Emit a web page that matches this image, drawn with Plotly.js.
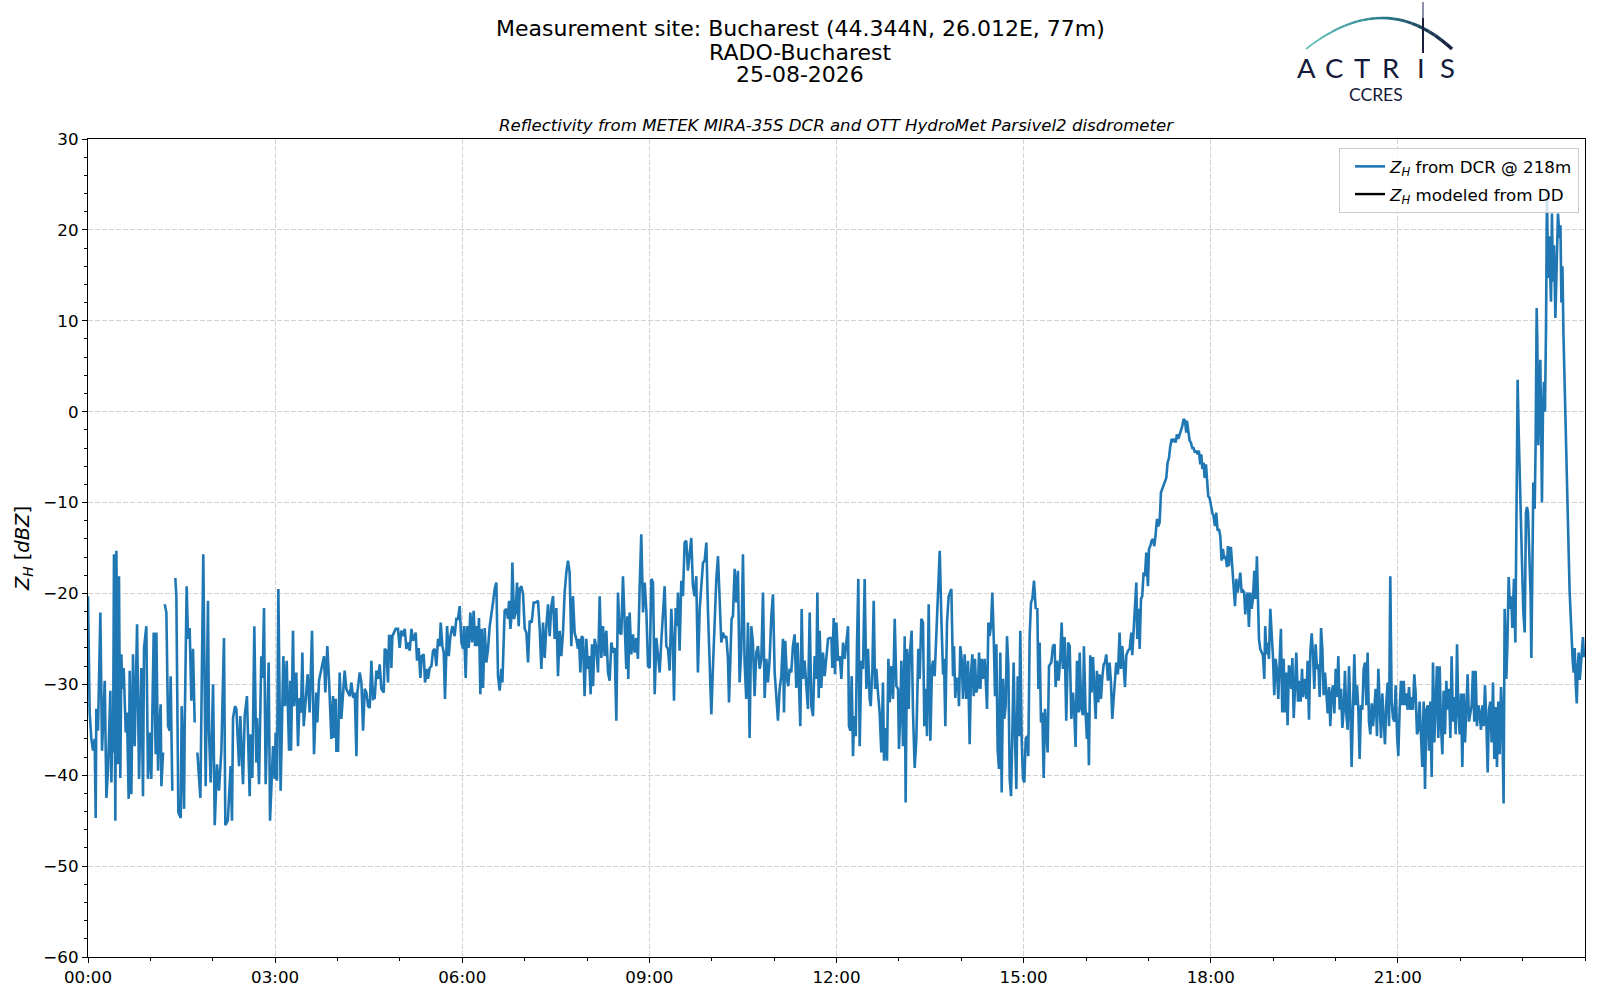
<!DOCTYPE html>
<html>
<head>
<meta charset="utf-8">
<script src="https://cdn.plot.ly/plotly-3.0.1.min.js"></script>
<style>html,body{margin:0;padding:0;background:#fff;}#chart{width:1600px;height:1000px;}</style>
</head>
<body>
<div id="chart"></div>
<script>
// ---- data: minutes since 00:00 UTC and reflectivity Z_H [dBZ] ----
const DAY = '2026-08-25';
const tA = [0,1.6,3.2,4.8,6.4,7.4,8.0,9.6,11.9,12.5,13.5,16.1,17.7,19.3,21.5,22.5,23.4,24.1,25.0,26.3,27.3,28.9,29.8,31.1,32.1,33.1,34.3,36.3,37.5,39.1,40.1,41.7,43.3,44.9,47.2,49.1,51.3,52.9,53.9,56.1,57.7,59.3,60.9,63.2,65.1,65.8,67.4,68.3,69.9,70.6,72.2,72.9,73.8,75.4,77.0,78.6,79.5,81.1,82.5,84.0,85.0,86.9,89.2,90.1,92.4,93.0,94.9,96.2,97.8,99.4,101.0,102.6,103.9,105.2,108.1,110.9,113.2,115.4,116.4,118.0,120.3,121.9,124.1,126.0,128.3,130.8,132.1,134.5,137.2,138.5,139.5,141.4,142.7,145.3,146.5,149.1,150.7,152.9,155.5,156.5,158.1,160.0,161.9,162.6,164.5,166.7,168.0,169.3,170.9,173.8,175.1,178.0,179.6,180.5,181.8,183.1,185.3,187.9,189.5,191.1,193.4,194.6,195.3,197.2,198.2,200.4,202.0,203.6,204.9,206.2,207.5,211.3,213.2,215.5,217.4,219.6,220.6,222.2,227.0,228.3,230.2,231.8];
const zA = [-20.3,-33.1,-36.0,-37.3,-36.0,-44.7,-32.7,-35.1,-22.1,-32.4,-37.3,-29.6,-42.5,-39.3,-30.7,-40.8,-34.2,-37.5,-15.7,-45.0,-15.3,-38.8,-18.1,-40.3,-26.7,-30.5,-28.2,-35.3,-33.1,-42.6,-28.5,-42.1,-26.7,-36.8,-23.4,-40.4,-28.2,-42.3,-26.0,-23.6,-40.4,-35.3,-40.4,-24.3,-37.7,-24.3,-39.5,-35.5,-32.2,-41.2,-37.5,null,-21.2,-22.1,-34.6,-35.1,-29.1,-41.7,null,-18.3,-20.3,-44.1,-44.7,-32.4,-43.7,-34.8,-19.2,-25.0,-23.8,-31.8,-26.1,-34.2,null,-37.5,-42.5,-15.7,-41.2,-20.8,-35.3,-40.8,-30.0,-45.5,-38.8,-41.7,-37.3,-24.9,-45.5,-45.0,-39.0,-45.0,-33.7,-32.4,-32.7,-39.0,-33.5,-41.0,-33.5,-31.3,-42.3,-35.5,-40.3,-23.6,-38.6,-33.7,-41.0,-26.9,-29.3,-21.6,-41.0,-27.6,-45.0,-36.8,-40.4,-35.3,-40.6,-19.5,-41.7,-26.9,-32.4,-27.4,-37.3,-29.6,-37.3,-24.1,-32.4,-28.7,-36.8,-31.5,-33.1,-26.5,-34.6,-28.9,-33.1,-24.1,-37.7,-30.9,-34.2,-29.6,-26.9,-30.9,-25.8,-29.4];

const tB = [234.1,235.7,236.7,238.3,238.9,240.5,242.1,243.7,245.3,246.9,248.5,250.2,251.8,253.4,255.0,256.6,258.2,259.1,261.4,263.0,264.6,266.2,267.8,269.4,271.0,272.6,274.2,275.8,277.4,279.0,280.6,282.2,284.5,285.4,287.0,288.6,289.6,291.2,291.8,292.8,294.1,296.0,298.2,299.8,301.4,303.0,304.7,306.3,307.9,309.5,311.1,312.7,314.3,315.2,316.5,318.1,319.7,321.0,322.9,324.2,326.1,327.1,328.7,330.3,331.9,333.5,335.1,336.7,338.3,339.3,340.9,342.2,343.4,345.4,347.0,348.6,350.5,352.7,354.3,355.9,357.5,359.2,360.8,361.7,363.3,364.6,366.2,367.8,369.4,371.0,372.3,373.6,374.9,376.1,377.4,378.7,380.0,381.6,383.2,384.8,386.4,388.0,389.6,391.2,392.8,394.4,396.0,397.6,398.6,400.8,402.4,404.0,405.0,406.3,407.2,408.2,409.8,411.4,412.7,414.3,415.3,416.9,418.5,420.1,421.7,423.3,424.9,426.8,428.7,430.7,432.9,434.5,436.1,437.7,439.3,440.9,442.5,444.1,445.7,447.3,448.9,450.5,452.1,453.7,455.3,456.9,458.5,460.1,461.7,463.3];
const zB = [-36.0,-31.3,-35.9,-31.6,-37.3,-37.3,-28.7,-33.8,-30.9,-28.5,-30.5,-30.9,-31.3,-29.8,-31.5,-30.9,-37.9,-30.9,-28.7,-29.8,-35.1,-30.5,-30.9,-32.4,-32.6,-27.4,-31.6,-31.5,-28.5,-29.4,-27.8,-30.5,-30.9,-26.1,-26.3,-29.8,-24.7,-24.7,-28.2,-24.7,-24.3,-23.9,-23.9,-26.0,-24.1,-24.7,-23.9,-26.1,-25.4,-26.3,-23.9,-25.2,-24.7,-24.3,-27.4,-26.0,-29.3,-26.9,-26.7,-29.8,-28.3,-29.4,-28.2,-28.0,-26.3,-26.1,-28.0,-25.0,-25.8,-23.2,-25.8,-26.5,-31.6,-23.6,-26.9,-24.7,-23.6,-24.7,-22.8,-22.8,-21.4,-25.4,-26.1,-23.6,-29.3,-23.6,-26.0,-22.1,-25.4,-21.9,-25.8,-23.6,-25.8,-22.7,-31.1,-23.9,-30.4,-23.8,-27.6,-26.1,-23.6,-22.5,-21.0,-19.5,-18.8,-29.1,-30.7,-28.3,-29.8,-21.9,-21.7,-22.8,-20.8,-23.9,-22.8,-16.6,-22.8,-22.1,-18.8,-23.6,-19.5,-19.2,-20.1,-23.9,-24.3,-27.6,-23.0,-23.2,-21.0,-21.0,-20.8,-23.9,-28.3,-23.2,-27.1,-23.6,-21.2,-24.7,-21.4,-20.3,-25.0,-21.6,-29.1,-24.1,-26.9,-24.3,-19.9,-17.7,-16.4,-17.7];

const tC = [464.9,466.5,468.1,469.7,471.3,472.3,473.6,474.9,476.1,477.7,479.3,481.0,481.9,483.5,484.8,485.8,487.4,489.0,490.6,492.2,493.8,495.4,497.0,498.6,500.2,501.8,503.4,505.0,506.6,508.2,509.8,511.4,513.0,514.6,516.2,517.8,518.8,519.7,521.0,522.6,524.2,525.8,527.4,529.0,530.6,532.2,533.9,535.5,537.1,538.7,540.3,541.9,543.5,545.1,546.7,548.3,549.9,551.5,553.1,554.7,556.3,557.9,559.5,561.1,562.7,563.7,565.3,566.6,567.5,569.1,570.7,572.3,573.9,575.5,577.1,578.7,580.3,581.9,583.5,585.1,586.7,588.4,590.0,591.6,593.2,594.8,596.4,598.0,599.6,601.2,602.8,604.4,606.0,607.6,609.2,610.8,612.4,614.0,615.6,616.6,617.9,619.1,620.4,622.0,623.6,625.2,626.8,628.4,630.0,631.6,633.2,634.8,636.4,638.0,639.6,641.2,642.9,644.5,646.1,647.7,649.3,650.9,652.5,654.1,655.7,657.3,658.9,660.5,662.1,663.7,665.3,666.9,668.5,669.5,670.7,672.3,673.6,674.9,676.5,678.1,679.7,681.3,682.6,683.9,685.2,686.5,687.7,689.3,690.9,692.5,694.2];
const zC = [-25.8,-20.3,-24.3,-25.0,-26.1,-25.0,-28.7,-24.7,-24.9,-31.3,-25.0,-28.3,-26.9,-31.1,-25.6,-30.2,-25.0,-26.0,-28.7,-20.3,-27.1,-23.6,-26.9,-24.1,-28.7,-29.6,-25.4,-26.5,-26.0,-34.0,-19.9,-24.3,-24.5,-18.1,-24.3,-28.3,-22.5,-29.4,-22.1,-26.7,-24.5,-26.5,-24.9,-27.2,-19.5,-13.5,-22.1,-18.8,-21.9,-28.0,-28.2,-18.4,-18.8,-31.1,-24.9,-27.2,-28.7,-25.2,-22.1,-19.2,-25.8,-26.1,-28.5,-21.7,-25.8,-31.8,-21.6,-23.6,-19.9,-26.3,-18.6,-20.3,-14.4,-14.2,-17.5,-15.3,-13.9,-19.2,-20.3,-18.1,-28.7,-21.7,-19.5,-16.6,-16.4,-14.4,-22.1,-27.8,-33.3,-28.0,-22.1,-18.4,-15.9,-19.9,-25.4,-24.3,-24.9,-24.7,-27.2,-32.0,-26.5,-22.8,-22.5,-17.3,-21.0,-17.5,-29.8,-26.3,-15.7,-27.6,-31.6,-23.2,-35.9,-23.6,-25.4,-31.3,-26.5,-25.8,-28.3,-27.2,-19.9,-31.5,-27.2,-29.8,-27.2,-22.5,-20.1,-28.7,-31.3,-34.0,-30.5,-29.1,-25.0,-33.1,-25.2,-29.4,-30.2,-28.3,-28.7,-25.8,-24.5,-30.4,-25.4,-29.1,-34.6,-21.7,-29.4,-27.4,-30.5,-32.7,-22.1];

const tD = [695.8,697.4,699.0,700.6,701.6,702.9,703.8,705.4,707.0,708.6,710.2,711.9,713.5,715.1,716.0,717.3,718.6,719.9,721.5,723.1,724.7,726.3,727.9,729.5,731.1,732.0,733.3,734.6,735.9,736.9,738.5,739.7,741.0,742.3,743.9,745.5,747.1,748.7,750.3,751.9,752.9,754.5,755.8,757.1,758.3,759.9,761.5,763.1,764.7,765.7,767.3,768.6,769.9,771.2,772.8,774.4,776.0,777.6,779.2,780.1,781.4,782.4,784.0,785.6,786.5,787.8,789.4,790.4,792.3,793.6,795.2,796.8,798.7,800.0,801.6,803.2,804.5,805.8,807.1,808.7,810.3,811.9,812.9,814.4,816.0,817.6,819.3,820.9,822.5,823.4,824.7,826.3,827.9,829.2,830.5,832.1,833.0,834.3,835.3,836.9,837.8,839.1,840.4,841.7,843.3,844.9,846.5,848.1,849.4,850.7,852.0,853.2,854.5,856.1,857.1,858.4,859.6,860.9,862.5,863.5,864.8,866.1,867.3,868.6,869.9,871.2,872.5,873.8,875.0,876.3,877.6,878.9,880.2,881.4,882.7,884.0,885.3,886.6,887.9,889.1,890.4,891.7,893.0,894.3,895.6,896.8,898.1,899.4,900.7,902.0,903.3,904.5,905.8,907.1,908.4,910.0,911.6,913.2,914.2,915.4,916.7,918.0,919.3,920.6,921.8,923.1,924.4];
const zD = [-32.4,-33.5,-26.9,-29.4,-19.9,-31.5,-24.1,-30.4,-26.5,-29.1,-27.4,-25.0,-24.9,-24.9,-28.2,-22.7,-28.9,-23.2,-27.4,-26.9,-29.4,-25.4,-27.2,-25.4,-23.6,-34.6,-35.1,-29.1,-37.9,-33.5,-35.7,-25.8,-18.4,-36.8,-27.4,-28.3,-18.4,-30.5,-26.1,-31.6,-32.4,-28.3,-20.8,-30.5,-28.3,-30.9,-33.1,-37.5,-29.8,-38.4,-34.8,-38.4,-27.2,-32.0,-28.0,-31.6,-22.8,-30.2,-30.5,-37.1,-33.1,-27.4,-36.8,-24.7,-43.0,-26.1,-32.7,-26.9,-24.1,-33.1,-39.2,-36.0,-26.1,-29.4,-22.8,-23.2,-34.6,-30.5,-35.7,-21.2,-36.2,-28.0,-27.4,-29.1,-23.9,-19.2,-15.3,-22.8,-28.9,-27.2,-34.6,-23.2,-20.3,-19.9,-19.5,-29.1,-25.8,-31.5,-29.4,-29.4,-32.4,-25.8,-27.2,-31.6,-26.7,-31.6,-27.4,-36.6,-28.7,-26.7,-31.3,-27.2,-30.9,-30.2,-26.5,-30.5,-27.2,-29.4,-27.2,-29.4,-32.7,-23.2,-24.7,-23.6,-19.9,-24.7,-31.3,-25.6,-37.1,-39.3,-26.5,-41.9,-29.4,-33.8,-32.4,-24.7,-28.0,-40.4,-42.3,-35.7,-27.6,-36.0,-41.5,-29.1,-35.7,-24.1,-36.0,-40.4,-40.8,-36.0,-35.7,-37.9,-24.7,-21.0,-20.6,-18.6,-21.6,-21.7,-30.5,-25.4,-34.2,-33.1,-40.3,-32.7,-35.3,-37.5,-28.0];

const tE = [926.6,928.2,929.8,930.8,932.1,933.7,935.3,936.6,937.8,939.4,941.0,942.7,944.3,945.9,947.5,948.7,950.0,951.3,952.9,953.9,955.5,957.1,958.0,959.6,960.9,961.9,962.8,964.1,965.4,966.7,968.0,969.3,970.5,971.8,973.1,974.4,975.7,977.0,978.2,979.5,981.1,982.7,984.0,985.3,986.6,987.9,989.1,990.7,992.3,993.6,994.9,996.2,997.5,998.8,1000.4,1002.0,1003.6,1004.5,1005.8,1007.1,1008.4,1009.3,1010.6,1011.6,1012.9,1014.1,1015.4,1016.7,1018.0,1019.6,1020.6,1021.8,1023.1,1024.4,1025.7,1027.0,1028.3,1029.5,1030.8,1032.1,1033.4,1034.7,1035.9,1037.2,1038.5,1039.8,1041.1,1042.4,1043.6,1044.9,1046.2,1047.5,1048.8,1050.1,1051.3,1052.6,1053.9,1055.2,1056.5,1057.1,1058.4,1059.7,1060.9,1062.2,1063.5,1064.8,1066.1,1067.4,1068.6,1069.9,1070.9,1071.9,1073.1,1074.1,1075.4,1076.3,1077.6,1078.9,1080.2,1081.5,1082.7,1084.0,1085.3,1086.6,1087.9,1089.2,1090.4,1091.7,1093.0,1094.3,1095.6,1096.5,1097.5,1098.5,1099.4,1100.7,1102.0,1103.3,1104.6,1105.8,1107.1,1108.4,1109.7,1111.0,1112.2,1113.2,1114.2,1115.5,1116.7,1118.0,1119.3,1120.6,1121.9,1123.2,1124.4,1125.4,1126.4,1127.6,1128.9,1130.2,1131.5,1132.4,1133.4,1134.7,1136.0,1137.3,1138.5,1139.8,1141.1,1142.4,1143.7,1145.0,1146.2,1147.5,1148.8,1150.1,1151.4,1152.6,1153.9,1155.2];
const zE = [-27.6,-25.8,-25.6,-30.3,-27.4,-29.6,-27.0,-23.2,-28.3,-24.8,-34.0,-25.4,-25.8,-33.8,-30.9,-33.1,-36.9,-27.4,-33.1,-26.5,-32.7,-33.4,-25.8,-33.1,-36.0,-33.1,-38.9,-26.8,-30.9,-27.0,-30.1,-33.8,-28.5,-32.0,-28.9,-31.6,-29.2,-27.8,-27.6,-26.7,-29.6,-27.6,-29.8,-33.8,-31.6,-28.7,-27.6,-28.9,-24.3,-28.3,-25.8,-27.9,-30.3,-26.8,-26.3,-26.1,-24.3,-26.8,-24.1,-22.8,-18.8,-25.0,-21.7,-26.1,-20.6,-20.3,-17.7,-18.1,-15.5,-19.2,-15.1,-14.8,-14.2,-14.0,-14.8,-13.5,-11.8,-12.6,-12.2,-8.9,-8.5,-8.0,-7.8,-7.3,-5.6,-5.1,-3.8,-3.0,-3.2,-3.0,-3.4,-2.5,-3.0,-2.5,-2.1,-1.6,-0.8,-1.0,-2.3,-1.0,-2.1,-3.2,-3.4,-4.0,-4.0,-4.5,-4.3,-4.7,-4.3,-5.8,-4.7,-6.3,-5.6,-7.3,-5.8,-7.4,-9.3,-9.5,-10.4,-11.1,-11.5,-12.6,-11.1,-13.1,-12.9,-13.7,-16.4,-15.1,-16.2,-15.9,-17.1,-14.8,-17.0,-15.1,-14.9,-17.0,-19.5,-21.4,-18.4,-19.9,-19.0,-17.7,-19.9,-19.7,-19.9,-22.3,-20.6,-19.9,-23.7,-19.9,-21.7,-20.6,-17.5,-20.6,-15.9,-21.7,-25.0,-26.1,-26.5,-26.8,-29.4,-23.6,-26.7,-25.4,-27.2,-21.7,-24.3,-26.8,-31.2,-27.2,-28.5,-31.6,-27.6,-23.9,-33.1,-27.2,-33.1,-28.7,-34.5,-27.9];

const tF = [1155.9,1157.5,1158.5,1159.8,1161.0,1162.3,1163.9,1165.5,1166.5,1167.8,1168.7,1170.3,1172.0,1173.2,1174.5,1175.8,1177.1,1178.4,1179.6,1180.9,1182.2,1183.5,1184.8,1186.1,1187.3,1188.6,1189.9,1191.2,1192.5,1193.8,1195.0,1196.3,1197.6,1198.9,1200.2,1201.4,1202.7,1204.0,1205.3,1206.6,1207.9,1209.1,1210.4,1211.7,1213.0,1214.3,1215.5,1216.8,1218.1,1219.4,1220.7,1222.0,1223.2,1224.5,1225.8,1227.1,1228.4,1229.7,1230.9,1232.2,1233.5,1234.8,1236.1,1237.3,1238.6,1239.9,1241.2,1242.5,1243.8,1245.0,1246.3,1247.6,1248.9,1250.2,1251.5,1252.7,1254.0,1255.3,1256.6,1257.9,1259.2,1260.4,1261.7,1263.0,1264.3,1265.6,1266.8,1268.1,1269.4,1270.7,1272.0,1273.3,1274.5,1275.8,1277.1,1278.4,1279.7,1280.9,1282.2,1283.5,1284.8,1286.1,1287.4,1288.6,1289.9,1291.2,1292.5,1293.8,1295.1,1296.3,1297.6,1298.9,1300.2,1301.5,1302.8,1304.0,1305.3,1306.6,1307.9,1309.2,1310.5,1311.7,1313.0,1314.3,1315.6,1316.9,1318.1,1319.4,1320.7,1322.0,1323.3,1324.6,1325.8,1327.1,1328.4,1329.7,1331.0,1332.2,1333.5,1334.8,1336.1,1337.4,1338.7,1339.9,1341.2,1342.5,1343.8,1345.1,1346.4,1347.6,1348.9,1350.2,1351.5,1352.8,1354.1,1355.3,1356.6,1357.9,1359.2,1360.5,1361.7];
const zF = [-28.3,-30.5,-27.1,-33.7,-30.5,-26.5,-31.9,-29.6,-31.9,-28.3,-31.4,-29.4,-31.6,-27.4,-33.9,-26.5,-24.4,-26.7,-30.5,-25.6,-28.3,-27.8,-31.4,-23.8,-26.0,-31.2,-28.7,-31.6,-33.2,-30.3,-34.6,-31.0,-30.1,-33.2,-28.3,-31.4,-26.9,-32.8,-30.5,-34.8,-32.8,-28.5,-33.2,-35.0,-28.0,-32.8,-39.1,-32.8,-26.7,-32.3,-30.1,-32.8,-38.2,-32.3,-32.8,-28.3,-27.6,-32.3,-26.5,-34.1,-35.5,-32.1,-34.6,-32.8,-30.5,-35.7,-28.3,-32.3,-35.9,-31.0,-34.8,-36.6,-31.9,-29.8,-34.6,-18.1,-31.9,-33.7,-34.1,-30.1,-35.5,-37.9,-32.8,-29.6,-32.3,-29.6,-32.3,-31.0,-32.8,-30.3,-32.8,-31.4,-32.8,-28.9,-31.0,-35.5,-35.0,-31.9,-35.5,-39.1,-31.9,-41.5,-32.8,-32.3,-37.3,-31.9,-40.2,-27.6,-36.4,-31.4,-28.0,-35.9,-28.0,-34.6,-37.7,-30.7,-35.5,-29.6,-32.8,-30.5,-35.9,-26.9,-34.1,-31.4,-35.5,-25.6,-32.8,-35.5,-31.0,-39.1,-31.0,-36.4,-32.3,-28.9,-34.1,-33.2,-32.3,-28.5,-34.1,-28.5,-34.6,-32.3,-33.2,-35.0,-32.3,-34.6,-30.1,-34.1,-39.7,-32.8,-31.9,-36.4,-29.8,-38.2,-32.5,-39.1,-31.9,-37.7,-30.3,-34.6,-43.1];

const tG = [1362.7,1364.3,1365.3,1366.6,1367.8,1369.1,1370.1,1370.7,1371.7,1373.0,1373.6,1374.3,1375.2,1376.2,1377.1,1378.1,1379.4,1380.7,1382.0,1383.2,1384.2,1385.2,1386.4,1387.7,1388.4,1389.3,1390.3,1391.6,1392.5,1393.5,1394.1,1395.1,1396.1,1397.0,1398.0,1398.6,1399.6,1400.5,1401.5,1402.5,1403.4,1404.4,1405.4,1406.3,1407.3,1408.2,1409.2,1410.2,1411.5,1412.7,1414.0,1415.6,1416.4,1417.3,1418.3,1419.3,1420.3,1421.3,1422.2,1423.2,1424.2,1425.2,1426.2,1427.2,1428.2,1429.1,1430.1,1431.1,1432.1,1433.0,1434.0,1435.0,1436.0,1437.0,1438.0,1439.0,1439.9];
const zG = [-21.7,-29.4,-25.8,-18.2,-21.7,-20.3,-23.8,-20.3,-18.4,-25.4,-14.0,-12.2,3.5,-2.2,-5.6,-10.7,-16.6,-22.1,-24.3,-11.1,-10.5,-11.1,-14.7,-20.3,-27.1,-20.3,-7.8,-10.7,-3.7,11.4,8.1,-3.7,1.8,5.7,-3.7,-10.0,0.3,3.3,0.0,9.2,24.5,14.7,19.3,14.3,12.1,21.8,14.3,18.3,10.3,15.8,21.8,19.1,20.5,12.0,16.0,8.4,2.8,1.0,-4.0,-9.6,-15.0,-19.7,-23.0,-25.4,-27.5,-28.7,-26.0,-30.0,-32.1,-28.0,-26.5,-29.5,-28.2,-26.0,-24.8,-27.0,-26.5];

const xTickLabels = ['00:00','03:00','06:00','09:00','12:00','15:00','18:00','21:00'];
const titleLines = ['Measurement site: Bucharest (44.344N, 26.012E, 77m)', 'RADO-Bucharest', '25-08-2026'];
const subTitle = 'Reflectivity from METEK MIRA-35S DCR and OTT HydroMet Parsivel2 disdrometer';
const seriesNames = ['<i>Z</i><sub><i>H</i></sub> from DCR @ 218m', '<i>Z</i><sub><i>H</i></sub> modeled from DD'];
const logoLetters = ['A','C','T','R','I','S'];

// ---- build ----
function pad(n){return (n<10?'0':'')+n;}
function stamp(m){
  const s = Math.round(m*60);
  const hh = Math.floor(s/3600), mm = Math.floor((s%3600)/60), ss = s%60;
  if (hh >= 24) return '2026-08-26 00:00:00';
  return DAY+' '+pad(hh)+':'+pad(mm)+':'+pad(ss);
}
const tAll = [].concat(tA,tB,tC,tD,tE,tF,tG);
const zAll = [].concat(zA,zB,zC,zD,zE,zF,zG);
const xAll = tAll.map(stamp);
const tickVals = xTickLabels.map(l => DAY+' '+l+':00');

// pixel -> paper helpers for decoration placement
const L=88, R=1585, T=139, B=957;
const px = v => (v-L)/(R-L);
const py = v => (B-v)/(B-T);

const traces = [
  {type:'scatter', mode:'lines', x:xAll, y:zAll, name:seriesNames[0], legendgroup:'a',
   line:{color:'#1f77b4', width:2.6}, connectgaps:false, hoverinfo:'x+y'},
  {type:'scatter', mode:'lines', x:[null], y:[null], name:seriesNames[1], legendgroup:'b',
   line:{color:'#000000', width:2.4}}
];

const gridStyle = {showgrid:true, gridcolor:'#d3d3d3', gridwidth:1, griddash:'5px,2px'};

// logo arc as gradient segments (quadratic bezier in pixel space)
const shapes = [];
const P0=[1306,49], P1=[1385,-13], P2=[1452,49];
const c0=[108,196,190], c1=[38,125,138], c2=[24,27,60];
const N=24;
function bz(t){return [ (1-t)*(1-t)*P0[0]+2*(1-t)*t*P1[0]+t*t*P2[0], (1-t)*(1-t)*P0[1]+2*(1-t)*t*P1[1]+t*t*P2[1] ];}
function col(t){
  let a,b,u; if(t<0.5){a=c0;b=c1;u=t/0.5;} else {a=c1;b=c2;u=(t-0.5)/0.5;}
  return 'rgb('+a.map((v,i)=>Math.round(v+(b[i]-v)*u)).join(',')+')';
}
for(let i=0;i<N;i++){
  const a=bz(i/N), b=bz((i+1)/N);
  shapes.push({type:'line', xref:'paper', yref:'paper', x0:px(a[0]), y0:py(a[1]), x1:px(b[0]), y1:py(b[1]),
    line:{color:col((i+0.5)/N), width:1.8+1.8*(i/N)}, layer:'above'});
}
shapes.push({type:'line', xref:'paper', yref:'paper', x0:px(1423), x1:px(1423), y0:py(2), y1:py(18),
  line:{color:'#8a8ea6', width:2}});
shapes.push({type:'line', xref:'paper', yref:'paper', x0:px(1423), x1:px(1423), y0:py(18), y1:py(53),
  line:{color:'#1a1d3c', width:2}});

const annotations = [];
const titleY = [28.4, 51.6, 74.4];
titleLines.forEach((s,i)=>annotations.push({text:s, xref:'paper', yref:'paper', x:px(800), y:py(titleY[i]),
  xanchor:'center', yanchor:'middle', height:22, showarrow:false, font:{family:'DejaVu Sans', size:22, color:'#000'}}));
annotations.push({text:'<i>'+subTitle+'</i>', xref:'paper', yref:'paper', x:0.5, y:py(125.5),
  xanchor:'center', yanchor:'middle', showarrow:false, font:{family:'DejaVu Sans', size:16.6, color:'#000'}});
const letterX = [1306,1334,1362,1391,1421,1447];
logoLetters.forEach((c,i)=>annotations.push({text:c, xref:'paper', yref:'paper', x:px(letterX[i]), y:py(67),
  xanchor:'center', yanchor:'middle', height:24, showarrow:false, font:{family:'Lato', size:27.5, color:'#161a3b'}}));
annotations.push({text:'CCRES', xref:'paper', yref:'paper', x:px(1376), y:py(94), xanchor:'center', yanchor:'middle',
  height:16, showarrow:false, font:{family:'Lato', size:17.5, color:'#161a3b'}});

const layout = {
  width:1600, height:1000,
  paper_bgcolor:'#ffffff', plot_bgcolor:'#ffffff',
  margin:{l:L, r:1600-R, t:T, b:1000-B, pad:0},
  font:{family:'DejaVu Sans', color:'#000'},
  showlegend:true,
  legend:{x:px(1579), y:py(148), xanchor:'right', yanchor:'top', bgcolor:'rgba(255,255,255,0.8)',
    bordercolor:'#cccccc', borderwidth:1, font:{size:16.7, family:'DejaVu Sans'}, tracegroupgap:3,
    traceorder:'grouped', indentation:10},
  xaxis:Object.assign({type:'date', range:[DAY+' 00:00:00','2026-08-26 00:00:00'], tickmode:'array',
    tickvals:tickVals, ticktext:xTickLabels, ticks:'outside', ticklen:5, tickwidth:1, tickcolor:'#000',
    showline:true, linecolor:'#000', linewidth:1.1, mirror:true, zeroline:false,
    tickfont:{size:16.7, family:'DejaVu Sans'},
    minor:{tickmode:'linear', tick0:DAY+' 00:00:00', dtick:3600000, ticks:'outside', ticklen:3, tickcolor:'#000', tickwidth:1, showgrid:false},
    automargin:false}, gridStyle),
  yaxis:Object.assign({range:[-60,30], tick0:0, dtick:10, ticks:'outside', ticklen:5, tickwidth:1, tickcolor:'#000',
    showline:true, linecolor:'#000', linewidth:1.1, mirror:true, zeroline:false,
    tickfont:{size:16.7, family:'DejaVu Sans'},
    minor:{dtick:2, ticks:'outside', ticklen:3, tickcolor:'#000', tickwidth:1, showgrid:false},
    title:{text:'<i>Z</i><sub><i>H</i></sub> [<i>dBZ</i>]', font:{size:19.5, family:'DejaVu Sans'}, standoff:8},
    automargin:false}, gridStyle),
  shapes:shapes,
  annotations:annotations
};

Plotly.newPlot('chart', traces, layout, {staticPlot:true, displayModeBar:false});
</script>
</body>
</html>
